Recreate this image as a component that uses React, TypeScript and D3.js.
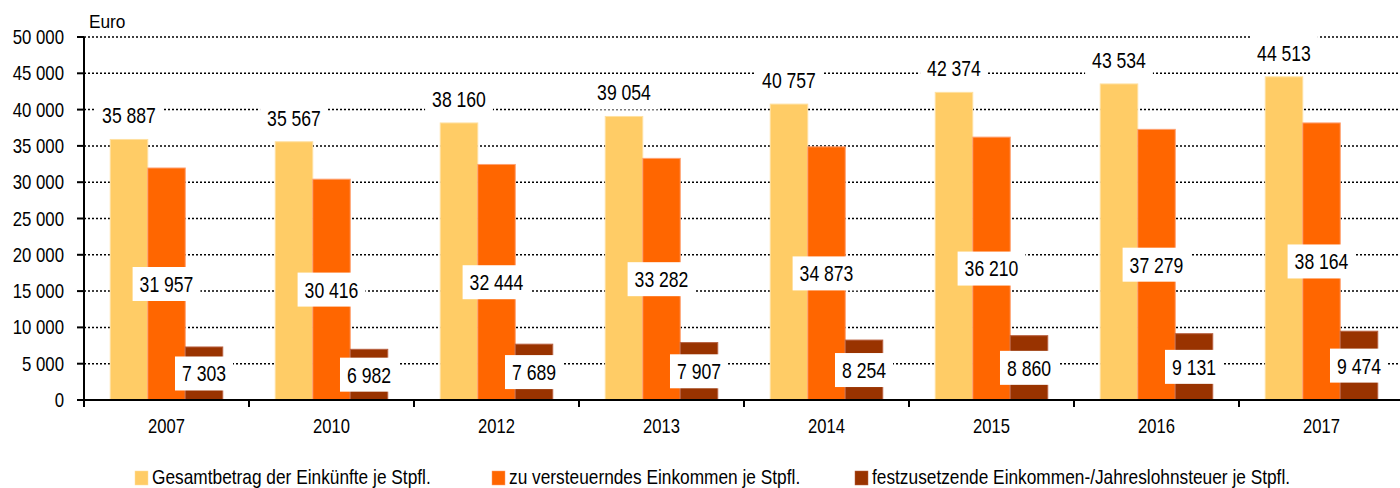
import React, { useEffect, useRef } from "react";
import * as d3 from "d3";

const years = ["2007", "2010", "2012", "2013", "2014", "2015", "2016", "2017"];
const gesamtbetrag = [35887, 35567, 38160, 39054, 40757, 42374, 43534, 44513];
const zuVersteuern = [31957, 30416, 32444, 33282, 34873, 36210, 37279, 38164];
const steuer = [7303, 6982, 7689, 7907, 8254, 8860, 9131, 9474];
const seriesNames = [
  "Gesamtbetrag der Einkünfte je Stpfl.",
  "zu versteuerndes Einkommen je Stpfl.",
  "festzusetzende Einkommen-/Jahreslohnsteuer je Stpfl.",
];
const yTicks = [0, 5000, 10000, 15000, 20000, 25000, 30000, 35000, 40000, 45000, 50000];

const W = 1400;
const H = 488;
const FONT = "'Liberation Sans', Arial, sans-serif";
const fills = ["#FFCC66", "#FF6600", "#993300"];
const strokes = ["#FFE0A0", "#FFA070", "#B86040"];

const fmt = (v: number) => {
  const s = String(Math.round(v));
  return s.replace(/\B(?=(\d{3})+(?!\d))/g, " ");
};

type Sel = d3.Selection<any, unknown, null, undefined>;

function addText(
  parent: Sel,
  x: number,
  y: number,
  txt: string,
  size: number,
  sx: number,
  anchor: string,
  dy = "0"
) {
  const g = parent.append("g").attr("transform", `translate(${x},${y}) scale(${sx},1)`);
  const t = g
    .append("text")
    .attr("x", 0)
    .attr("y", 0)
    .attr("dy", dy)
    .attr("text-anchor", anchor)
    .attr("font-family", FONT)
    .attr("font-size", size)
    .attr("fill", "#000")
    .text(txt);
  return { g, t };
}

export default function App() {
  const ref = useRef<SVGSVGElement | null>(null);

  useEffect(() => {
    const svg = d3.select(ref.current) as unknown as Sel;
    svg.selectAll("*").remove();

    const x0 = d3.scaleBand<string>().domain(years).range([84, 1404]).padding(0);
    const x1 = d3
      .scaleBand<number>()
      .domain([0, 1, 2])
      .range([0, x0.bandwidth()])
      .paddingInner(0)
      .paddingOuter(0.7);
    const y = d3.scaleLinear().domain([0, 50000]).range([400, 37]);

    const data = [gesamtbetrag, zuVersteuern, steuer];

    // gridlines
    svg
      .append("g")
      .selectAll("line")
      .data(yTicks.filter((t) => t > 0))
      .join("line")
      .attr("x1", 84)
      .attr("x2", W)
      .attr("y1", (d) => y(d))
      .attr("y2", (d) => y(d))
      .attr("stroke", "#000")
      .attr("stroke-width", 1.5)
      .attr("stroke-dasharray", "2,2");

    // bars
    const gBars = svg.append("g");
    data.forEach((vals, si) => {
      gBars
        .append("g")
        .selectAll("rect")
        .data(vals)
        .join("rect")
        .attr("x", (d, i) => (x0(years[i]) as number) + (x1(si) as number))
        .attr("y", (d) => y(d))
        .attr("width", x1.bandwidth())
        .attr("height", (d) => y(0) - y(d))
        .attr("fill", fills[si])
        .attr("stroke", strokes[si])
        .attr("stroke-width", 1);
    });

    // axes
    const axG = svg.append("g").attr("stroke", "#000").attr("stroke-width", 2);
    axG.append("line").attr("x1", 84).attr("x2", 84).attr("y1", y(50000)).attr("y2", 407);
    axG.append("line").attr("x1", 84).attr("x2", W).attr("y1", 400).attr("y2", 400);
    axG
      .selectAll(".yt")
      .data(yTicks)
      .join("line")
      .attr("x1", 77)
      .attr("x2", 84)
      .attr("y1", (d) => y(d))
      .attr("y2", (d) => y(d));
    axG
      .selectAll(".xt")
      .data(years.slice(1))
      .join("line")
      .attr("x1", (d) => x0(d) as number)
      .attr("x2", (d) => x0(d) as number)
      .attr("y1", 400)
      .attr("y2", 407);

    // y tick labels
    const yl = svg.append("g");
    yTicks.forEach((d) => addText(yl, 64, y(d), fmt(d), 20, 0.84, "end", "0.35em"));

    addText(svg, 89, 28, "Euro", 18, 0.96, "start");

    // x labels
    const xl = svg.append("g");
    years.forEach((d) =>
      addText(xl, (x0(d) as number) + x0.bandwidth() / 2, 433, d, 20, 0.83, "middle")
    );

    // value labels
    const gLab = svg.append("g");
    const sx = 0.8;
    data.forEach((vals, si) => {
      vals.forEach((v, i) => {
        const cx = (x0(years[i]) as number) + (x1(si) as number) + x1.bandwidth() / 2;
        const cy = si === 0 ? y(v) - 24 : (y(v) + y(0)) / 2;
        const holder = gLab.append("g");
        const rect = holder.append("rect").attr("fill", "#fff");
        const { t } = addText(holder, cx, cy, fmt(v), 22, sx, "middle", "0.36em");
        const w = (t.node() as SVGTextElement).getComputedTextLength() * sx;
        rect
          .attr("x", cx - w / 2 - 7)
          .attr("y", cy - 17)
          .attr("width", w + 14)
          .attr("height", 34);
      });
    });

    // legend
    const legX = [135, 492, 855];
    const lg = svg.append("g");
    seriesNames.forEach((name, i) => {
      lg.append("rect")
        .attr("x", legX[i])
        .attr("y", 471)
        .attr("width", 13)
        .attr("height", 14)
        .attr("fill", fills[i])
        .attr("stroke", strokes[i])
        .attr("stroke-width", 0.5);
      addText(lg, legX[i] + 17, 484, name, 20, 0.865, "start");
    });
  }, []);

  return (
    <svg
      ref={ref}
      width={W}
      height={H}
      style={{ position: "absolute", left: 0, top: 0, display: "block", background: "#fff" }}
    />
  );
}
